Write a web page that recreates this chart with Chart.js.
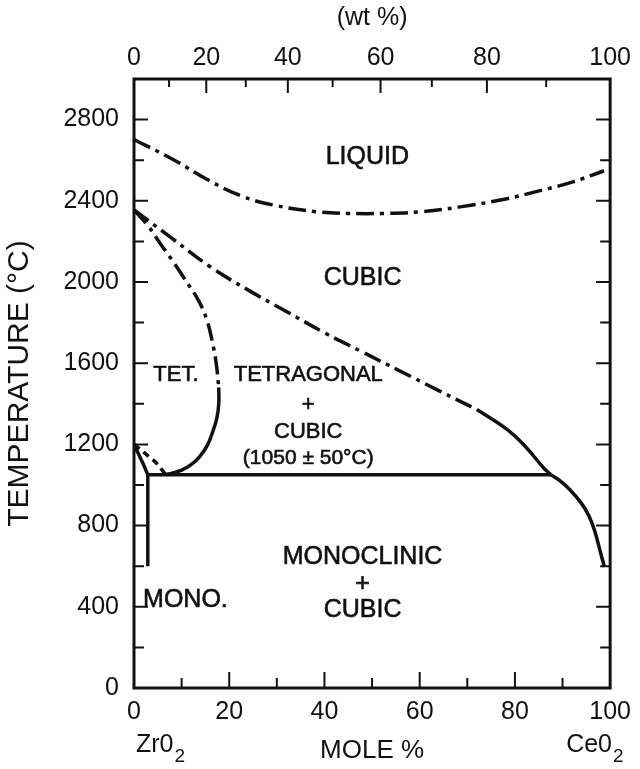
<!DOCTYPE html>
<html>
<head>
<meta charset="utf-8">
<script src="https://cdn.jsdelivr.net/npm/chart.js@4.4.1/dist/chart.umd.min.js"></script>
<style>
  html, body { margin: 0; padding: 0; background: #fff; }
  canvas { display: block; }
</style>
</head>
<body>
<canvas id="myChart" width="640" height="769"></canvas>
<script>
// ZrO2 - CeO2 phase diagram (mole %, deg C)
const LIQUIDUS_X = [0, 8.1, 15.7, 22.4, 29.1, 38.3, 45, 52.6, 60.2, 68.5, 77.8, 85.3, 92, 98.7];
const LIQUIDUS_T = [2702, 2605, 2501, 2425, 2380, 2346, 2338, 2338, 2346, 2370, 2408, 2450, 2492, 2548];

const CUBIC_UPPER_X = [0, 8, 16, 24, 32, 40, 48, 56, 64, 72];
const CUBIC_UPPER_T = [2355, 2215, 2075, 1960, 1855, 1750, 1655, 1560, 1465, 1372];
const CUBIC_MID_X = [72, 78, 82, 86, 87.6];
const CUBIC_MID_T = [1372, 1280, 1195, 1085, 1050];
const CUBIC_LOW_X = [87.6, 89.5, 91.5, 93.9, 95.5, 96.7, 98, 98.8];
const CUBIC_LOW_T = [1050, 1020, 978, 912, 850, 778, 665, 596];

const TET_UPPER_X = [0, 3, 5.5, 8, 10.5, 13.5, 15.3, 16.5, 17.3, 17.8];
const TET_UPPER_T = [2355, 2275, 2190, 2108, 2020, 1911, 1813, 1700, 1594, 1480];
const TET_LOWER_X = [17.8, 17.8, 17.4, 16.5, 15.4, 13.8, 12, 10, 8, 6.7];
const TET_LOWER_T = [1480, 1400, 1330, 1260, 1195, 1140, 1100, 1073, 1058, 1052];

const EUTECTOID_X = [2.9, 87.6];
const EUTECTOID_T = [1050, 1050];
const MONO_EDGE_X = [2.9, 2.9];
const MONO_EDGE_T = [1050, 600];
const LEFT_SOLID_X = [0, 1.2, 2.2, 2.9];
const LEFT_SOLID_T = [1200, 1140, 1090, 1050];
const LEFT_DASH_X = [0, 2.2, 4.7, 6.5];
const LEFT_DASH_T = [1200, 1158, 1108, 1055];

// axis ticks
const MOLE_TICKS = [0, 10, 20, 30, 40, 50, 60, 70, 80, 90, 100];
const WT_TICKS = [0, 10, 20, 30, 40, 50, 60, 70, 80, 90, 100];
const TEMP_TICKS = [0, 200, 400, 600, 800, 1000, 1200, 1400, 1600, 1800, 2000, 2200, 2400, 2600, 2800, 3000];

// region labels
const REGION_TEXT = ["LIQUID", "CUBIC", "TET.", "TETRAGONAL", "+", "CUBIC", "(1050 \u00b1 50\u00b0C)", "MONOCLINIC", "+", "CUBIC", "MONO."];
const REGION_X = [49, 48, 8.8, 36.6, 36.6, 36.6, 36.6, 48, 48, 48, 10.8];
const REGION_T = [2616, 2020, 1542, 1542, 1394, 1261, 1133, 645, 512, 384, 433];
const REGION_SIZE = [25, 25, 22, 22, 22, 22, 21, 25, 25, 25, 25];

const FONT = "'Liberation Sans', Arial, sans-serif";
const INK = "#111";

// mole % of CeO2 for a given wt % (molar masses of ZrO2 and CeO2)
function wtToMole(w) {
  const a = w / 172.12, b = (100 - w) / 123.22;
  return a + b === 0 ? 0 : 100 * a / (a + b);
}

function pts(xs, ts) {
  return xs.map((x, i) => ({ x: x, y: ts[i] }));
}

function line(xs, ts, dash, tension) {
  return {
    data: pts(xs, ts),
    showLine: true,
    borderColor: INK,
    borderWidth: 3.5,
    borderDash: dash,
    pointRadius: 0,
    tension: tension,
    borderCapStyle: "butt",
  };
}

const DASH_DOT = [18, 6, 4, 6];

const data = {
  datasets: [
    line(LIQUIDUS_X, LIQUIDUS_T, DASH_DOT, 0.4),
    line(CUBIC_UPPER_X, CUBIC_UPPER_T, DASH_DOT, 0.4),
    line(CUBIC_MID_X, CUBIC_MID_T, [], 0.4),
    line(CUBIC_LOW_X, CUBIC_LOW_T, [], 0.4),
    line(TET_UPPER_X, TET_UPPER_T, DASH_DOT, 0.4),
    line(TET_LOWER_X, TET_LOWER_T, [], 0.4),
    line(EUTECTOID_X, EUTECTOID_T, [], 0),
    line(MONO_EDGE_X, MONO_EDGE_T, [], 0),
    line(LEFT_SOLID_X, LEFT_SOLID_T, [], 0.3),
    line(LEFT_DASH_X, LEFT_DASH_T, [7, 5], 0.3),
  ],
};

// frame, inward ticks and text inside / under the plot
const decorations = {
  id: "decorations",
  afterDatasetsDraw(chart) {
    const { ctx, chartArea: a, scales } = chart;
    const x = scales.x, x2 = scales.x2, y = scales.y;
    ctx.save();
    ctx.strokeStyle = INK;
    ctx.lineWidth = 3;
    ctx.strokeRect(a.left, a.top, a.right - a.left, a.bottom - a.top);

    ctx.lineWidth = 2;
    ctx.beginPath();
    TEMP_TICKS.forEach(t => {
      if (t === 0 || t === 3000) return;
      const py = y.getPixelForValue(t);
      const len = t % 400 === 0 ? 14 : 10;
      ctx.moveTo(a.left, py); ctx.lineTo(a.left + len, py);
      ctx.moveTo(a.right, py); ctx.lineTo(a.right - len, py);
    });
    MOLE_TICKS.forEach(m => {
      if (m === 0 || m === 100) return;
      const px = x.getPixelForValue(m);
      const len = m % 20 === 0 ? 16 : 10;
      ctx.moveTo(px, a.bottom); ctx.lineTo(px, a.bottom - len);
    });
    WT_TICKS.forEach(w => {
      if (w === 0 || w === 100) return;
      const px = x2.getPixelForValue(wtToMole(w));
      const len = w % 20 === 0 ? 14 : 8;
      ctx.moveTo(px, a.top); ctx.lineTo(px, a.top + len);
    });
    ctx.stroke();

    ctx.fillStyle = INK;
    ctx.lineWidth = 0.6;
    ctx.textAlign = "center";
    ctx.textBaseline = "middle";
    REGION_TEXT.forEach((s, i) => {
      ctx.font = REGION_SIZE[i] + "px " + FONT;
      const px = x.getPixelForValue(REGION_X[i]), py = y.getPixelForValue(REGION_T[i]);
      ctx.fillText(s, px, py);
      ctx.strokeText(s, px, py);
    });

    // end members under the axis
    ctx.textAlign = "left";
    ctx.textBaseline = "alphabetic";
    const formula = (base, px) => {
      ctx.font = "25px " + FONT;
      ctx.fillText(base, px, 752);
      const w = ctx.measureText(base).width;
      ctx.font = "19px " + FONT;
      ctx.fillText("2", px + w + 1, 762);
    };
    formula("Zr0", x.getPixelForValue(0) + 2);
    formula("Ce0", x.getPixelForValue(100) - 44);
    ctx.restore();
  },
};

const config = {
  type: "scatter",
  data: data,
  options: {
    responsive: false,
    animation: false,
    layout: { padding: { left: 0, right: 17, top: 0, bottom: 0 } },
    plugins: {
      legend: { display: false },
      tooltip: { enabled: false },
    },
    scales: {
      x: {
        type: "linear",
        position: "bottom",
        min: 0,
        max: 100,
        afterBuildTicks: axis => { axis.ticks = MOLE_TICKS.map(v => ({ value: v })); },
        afterFit: axis => { axis.height = 81; },
        grid: { display: false, drawTicks: false },
        border: { display: false },
        ticks: {
          autoSkip: false,
          maxRotation: 0,
          padding: 9,
          color: INK,
          font: { size: 25 },
          callback: v => (v % 20 === 0 ? v : ""),
        },
        title: { display: true, text: "MOLE %", color: INK, font: { size: 26 }, padding: { bottom: 3 } },
      },
      x2: {
        type: "linear",
        position: "top",
        min: 0,
        max: 100,
        afterBuildTicks: axis => { axis.ticks = WT_TICKS.map(w => ({ value: wtToMole(w) })); },
        afterFit: axis => { axis.height = 79; },
        grid: { display: false, drawTicks: false },
        border: { display: false },
        ticks: {
          autoSkip: false,
          maxRotation: 0,
          padding: 6,
          color: INK,
          font: { size: 25 },
          callback: (v, i) => (WT_TICKS[i] % 20 === 0 ? WT_TICKS[i] : ""),
        },
        title: { display: true, text: "(wt %)", color: INK, font: { size: 25 }, padding: { top: 3 } },
      },
      y: {
        type: "linear",
        min: 0,
        max: 3000,
        afterBuildTicks: axis => { axis.ticks = TEMP_TICKS.map(v => ({ value: v })); },
        afterFit: axis => { axis.width = 134; },
        grid: { display: false, drawTicks: false },
        border: { display: false },
        ticks: {
          autoSkip: false,
          padding: 15,
          color: INK,
          font: { size: 25 },
          callback: v => (v % 400 === 0 && v < 3000 ? v : ""),
        },
        title: { display: true, text: "TEMPERATURE (\u00b0C)", color: INK, font: { size: 30 }, padding: { top: 2 } },
      },
    },
  },
  plugins: [decorations],
};

Chart.defaults.font.family = FONT;
const myChart = new Chart(document.getElementById("myChart"), config);
</script>
</body>
</html>
